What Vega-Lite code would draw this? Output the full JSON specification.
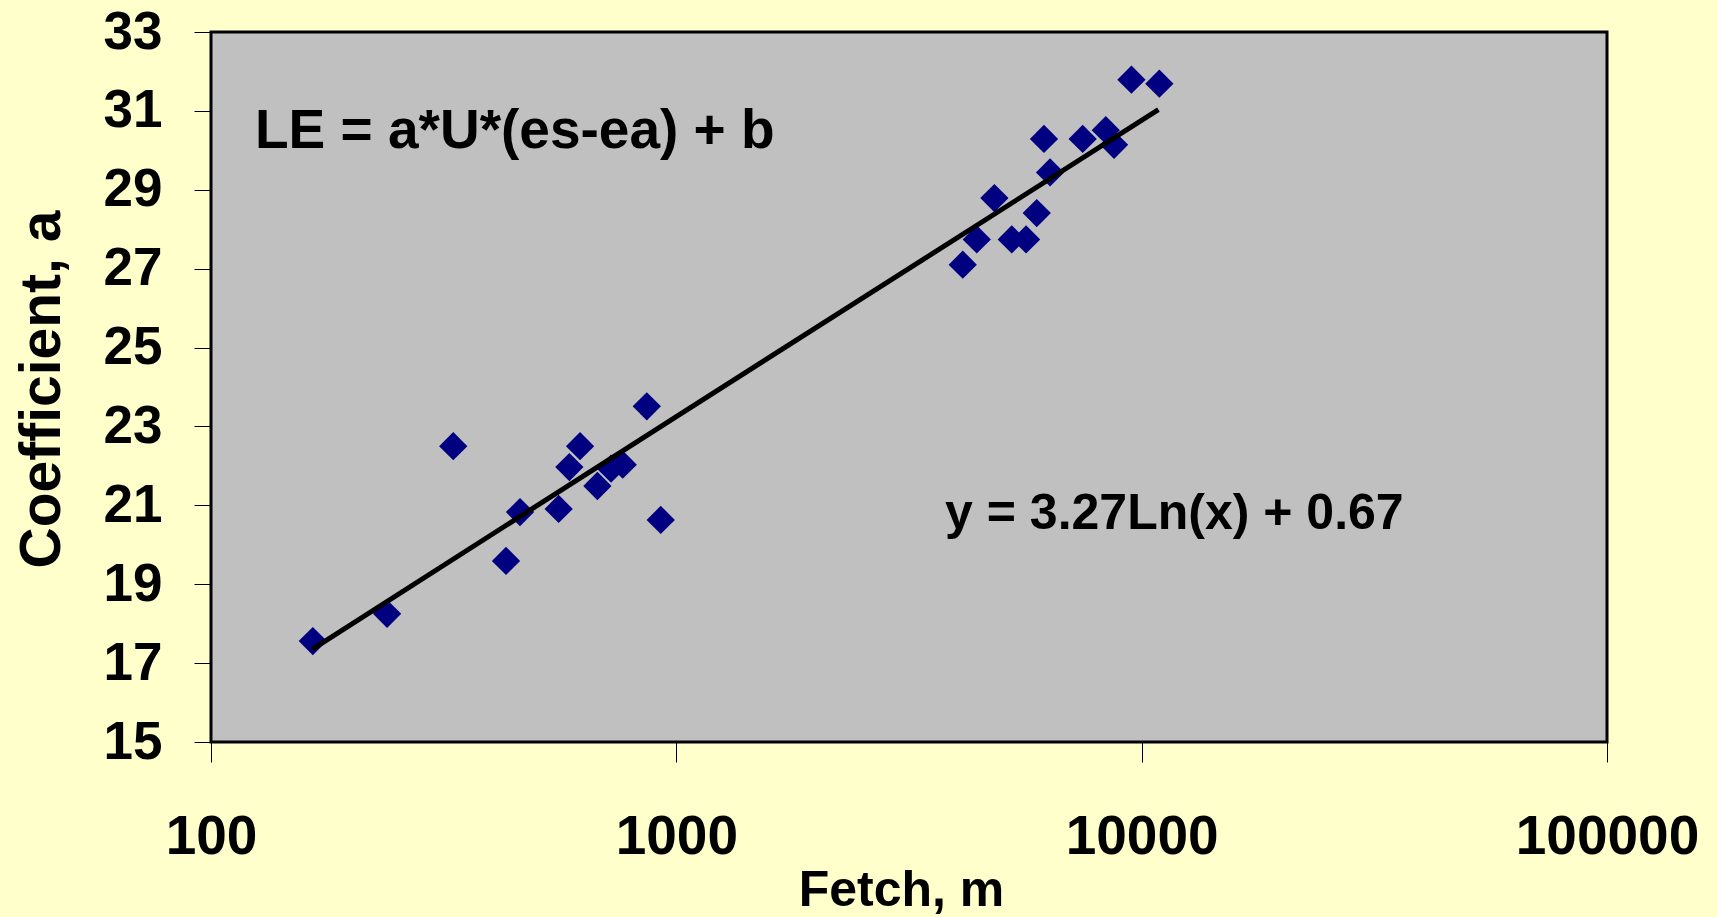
{
  "$schema": "https://vega.github.io/schema/vega-lite/v6.json",
  "width": 1396,
  "height": 710,
  "autosize": {"type": "none"},
  "padding": {"left": 211, "top": 32, "right": 110, "bottom": 175},
  "background": "#FFFFCC",
  "config": {
    "view": {"fill": "#C0C0C0", "stroke": "#000000", "strokeWidth": 3},
    "font": "Liberation Sans"
  },
  "layer": [
    {
      "data": {"values": [
        {"fetch": 165.5, "a": 17.56}, {"fetch": 239, "a": 18.25}, {"fetch": 331.6, "a": 22.50},
        {"fetch": 430.5, "a": 19.59}, {"fetch": 461.4, "a": 20.83}, {"fetch": 558.6, "a": 20.91},
        {"fetch": 589, "a": 21.97}, {"fetch": 621, "a": 22.50}, {"fetch": 676.6, "a": 21.49},
        {"fetch": 724, "a": 21.93}, {"fetch": 767, "a": 22.03}, {"fetch": 864, "a": 23.51},
        {"fetch": 925.7, "a": 20.63}, {"fetch": 4126, "a": 27.10}, {"fetch": 4422, "a": 27.74},
        {"fetch": 4825, "a": 28.79}, {"fetch": 5258, "a": 27.74}, {"fetch": 5644, "a": 27.74},
        {"fetch": 5950, "a": 28.41}, {"fetch": 6167, "a": 30.29}, {"fetch": 6355, "a": 29.44},
        {"fetch": 7469, "a": 30.29}, {"fetch": 8373, "a": 30.51}, {"fetch": 8723, "a": 30.14},
        {"fetch": 9506, "a": 31.79}, {"fetch": 10914, "a": 31.69}
      ]},
      "mark": {"type": "point", "shape": "diamond", "filled": true, "size": 800, "color": "#000080", "opacity": 1, "strokeWidth": 0},
      "encoding": {
        "x": {
          "field": "fetch", "type": "quantitative",
          "scale": {"type": "log", "domain": [100, 100000], "nice": false},
          "axis": {
            "title": "Fetch, m",
            "values": [100, 1000, 10000, 100000],
            "format": "d",
            "grid": false,
            "domain": false,
            "ticks": true, "tickSize": 20, "tickColor": "#000000", "tickWidth": 1,
            "labelFont": "Liberation Sans", "labelFontWeight": "bold", "labelFontSize": 55, "labelColor": "#000000",
            "labelPadding": 48, "labelFlush": false, "labelOverlap": false, "labelLimit": 0,
            "titleFont": "Liberation Sans", "titleFontWeight": "bold", "titleFontSize": 50, "titleColor": "#000000",
            "titleX": 690, "titleY": 163, "titleBaseline": "alphabetic", "titleAlign": "center"
          }
        },
        "y": {
          "field": "a", "type": "quantitative",
          "scale": {"domain": [15, 33], "nice": false, "zero": false},
          "axis": {
            "title": "Coefficient, a",
            "values": [15, 17, 19, 21, 23, 25, 27, 29, 31, 33],
            "grid": false,
            "domain": false,
            "ticks": true, "tickSize": 17, "tickColor": "#000000", "tickWidth": 1,
            "labelFont": "Liberation Sans", "labelFontWeight": "bold", "labelFontSize": 53, "labelColor": "#000000",
            "labelPadding": 32, "labelFlush": false, "labelOverlap": false, "labelLimit": 0,
            "titleFont": "Liberation Sans", "titleFontWeight": "bold", "titleFontSize": 57, "titleColor": "#000000",
            "titleX": -152, "titleY": 357, "titleBaseline": "alphabetic", "titleAlign": "center", "titleAngle": 270
          }
        }
      }
    },
    {
      "data": {"values": [
        {"fetch": 165, "a": 17.35}, {"fetch": 1000, "a": 23.25}, {"fetch": 10864, "a": 31.03}
      ]},
      "mark": {"type": "line", "color": "#000000", "strokeWidth": 5},
      "encoding": {
        "x": {"field": "fetch", "type": "quantitative"},
        "y": {"field": "a", "type": "quantitative"}
      }
    },
    {
      "data": {"values": [{"fetch": 124.3, "a": 30.06, "label": "LE = a*U*(es-ea) + b"}]},
      "mark": {"type": "text", "align": "left", "baseline": "alphabetic", "font": "Liberation Sans", "fontWeight": "bold", "fontSize": 55, "color": "#000000"},
      "encoding": {
        "x": {"field": "fetch", "type": "quantitative"},
        "y": {"field": "a", "type": "quantitative"},
        "text": {"field": "label"}
      }
    },
    {
      "data": {"values": [{"fetch": 3780, "a": 20.39, "label": "y = 3.27Ln(x) + 0.67"}]},
      "mark": {"type": "text", "align": "left", "baseline": "alphabetic", "font": "Liberation Sans", "fontWeight": "bold", "fontSize": 50, "color": "#000000"},
      "encoding": {
        "x": {"field": "fetch", "type": "quantitative"},
        "y": {"field": "a", "type": "quantitative"},
        "text": {"field": "label"}
      }
    }
  ]
}
